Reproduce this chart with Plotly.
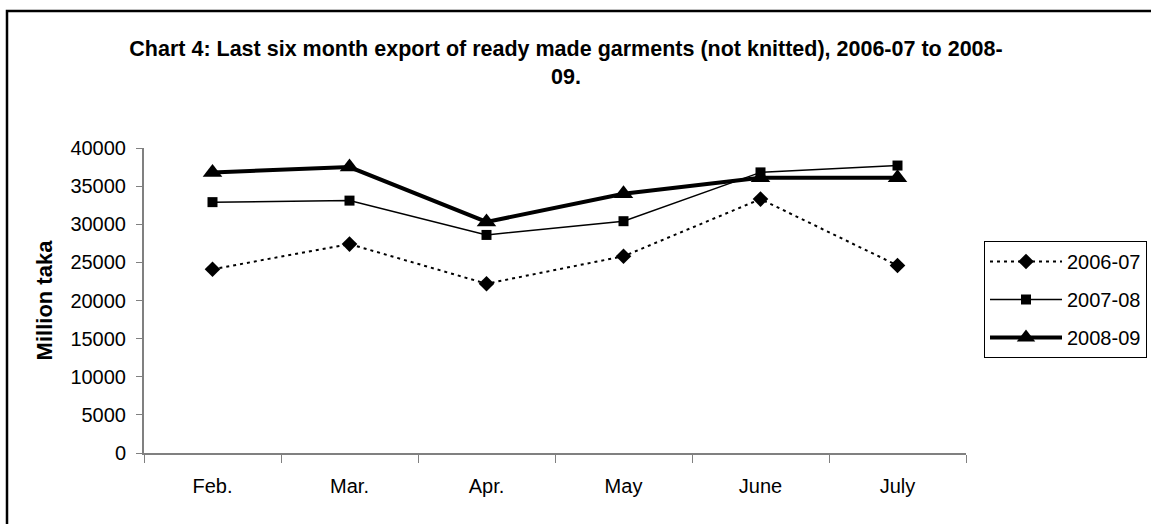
import plotly.graph_objects as go

months = ["Feb.", "Mar.", "Apr.", "May", "June", "July"]
y_2006_07 = [24100, 27400, 22200, 25800, 33300, 24600]
y_2007_08 = [32900, 33100, 28600, 30400, 36800, 37700]
y_2008_09 = [36800, 37500, 30300, 34000, 36100, 36100]
y_ticks = [0, 5000, 10000, 15000, 20000, 25000, 30000, 35000, 40000]

FONT = "Liberation Sans, Arial, sans-serif"

fig = go.Figure()
fig.add_trace(go.Scatter(
    x=months, y=y_2006_07, name="2006-07", mode="lines+markers",
    line=dict(color="black", width=2, dash="3px,4px"),
    marker=dict(symbol="diamond", size=12, color="black"),
    legendgroup="a",
))
fig.add_trace(go.Scatter(
    x=months, y=y_2007_08, name="2007-08", mode="lines+markers",
    line=dict(color="black", width=1.5),
    marker=dict(symbol="square", size=10, color="black"),
    legendgroup="b",
))
fig.add_trace(go.Scatter(
    x=months, y=y_2008_09, name="2008-09", mode="lines+markers",
    line=dict(color="black", width=4),
    marker=dict(symbol="triangle-up", size=17, color="black"),
    legendgroup="c",
))

fig.update_layout(
    width=1151, height=524,
    paper_bgcolor="white", plot_bgcolor="white",
    font=dict(family=FONT, color="black", size=20),
    margin=dict(l=144, r=185, t=148, b=71, autoexpand=False),
    title=dict(
        text="<b>Chart 4: Last six month export of ready made garments (not knitted), 2006-07 to 2008-<br>09.</b>",
        x=566 / 1151, xanchor="center", xref="container",
        y=1 - 56 / 524, yanchor="top", yref="container",
        font=dict(family=FONT, size=21.5, color="black"),
    ),
    xaxis=dict(
        type="category", range=[-0.5, 5.5],
        showline=True, linecolor="#808080", linewidth=2,
        ticks="outside", ticklen=8, tickcolor="#808080", tickson="boundaries",
        showgrid=False, zeroline=False,
        tickfont=dict(size=20), ticklabelstandoff=14,
    ),
    yaxis=dict(
        range=[0, 40000], tickvals=y_ticks, tickformat="d",
        showline=True, linecolor="#808080", linewidth=2,
        ticks="outside", ticklen=6, tickcolor="#808080",
        showgrid=False, zeroline=False,
        tickfont=dict(size=20), ticklabelstandoff=6,
        title=dict(text="<b>Million taka</b>", font=dict(size=22), standoff=12),
    ),
    legend=dict(
        x=(984 - 144) / 822, xanchor="left", y=(453 - 241) / 305, yanchor="top",
        bordercolor="black", borderwidth=1, bgcolor="white",
        font=dict(size=20), tracegroupgap=9, traceorder="grouped", itemwidth=72,
    ),
    shapes=[dict(
        type="rect", xref="paper", yref="paper",
        x0=(7 - 144) / 822, x1=1.3, y0=-0.3, y1=(453 - 11) / 305,
        line=dict(color="black", width=2.5), fillcolor="rgba(0,0,0,0)", layer="below",
    )],
)

fig.write_html(
    "out.html",
    config={"displayModeBar": False},
    post_script="document.body.style.margin='0';",
)
